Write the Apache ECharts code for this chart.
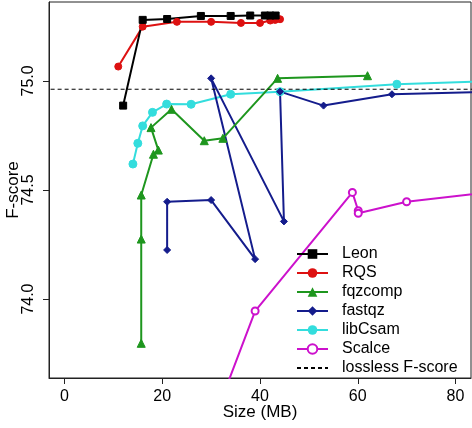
<!DOCTYPE html>
<html>
<head>
<meta charset="utf-8">
<script src="https://cdn.jsdelivr.net/npm/echarts@6/dist/echarts.min.js"></script>
<style>
html,body{margin:0;padding:0;background:#fff;}
#c{width:472px;height:428px;}
</style>
</head>
<body>
<div id="c"></div>
<script>
// ---- data ----
var seriesNames = ['Leon', 'RQS', 'fqzcomp', 'fastqz', 'libCsam', 'Scalce', 'lossless F-score'];

var leonX = [12.0, 16.0, 21.0, 27.9, 34.0, 38.0, 41.0, 42.1, 43.2];
var leonY = [74.887, 75.280, 75.284, 75.298, 75.298, 75.300, 75.300, 75.300, 75.300];

var rqsX = [11.0, 16.0, 23.0, 30.0, 36.1, 40.0, 42.1, 43.1, 44.1];
var rqsY = [75.066, 75.249, 75.271, 75.271, 75.266, 75.266, 75.277, 75.280, 75.283];

var fqzX = [15.7, 15.7, 15.7, 18.2, 19.2, 17.7, 21.9, 28.6, 32.4, 43.6, 62.0];
var fqzY = [73.797, 74.275, 74.477, 74.664, 74.683, 74.786, 74.870, 74.726, 74.737, 75.012, 75.024];

var fastqzX = [21.0, 21.0, 30.0, 39.0, 30.0, 44.9, 44.1, 53.0, 67.0, 95.0];
var fastqzY = [74.225, 74.446, 74.454, 74.183, 75.012, 74.356, 74.951, 74.887, 74.939, 74.955];

var libX = [14.0, 15.0, 16.0, 18.0, 20.9, 25.9, 34.0, 44.1, 68.0, 95.0];
var libY = [74.619, 74.714, 74.794, 74.856, 74.894, 74.893, 74.939, 74.951, 74.985, 75.005];

var scalceX = [30.0, 39.0, 58.9, 60.1, 60.1, 70.0, 95.0];
var scalceY = [73.413, 73.945, 74.489, 74.405, 74.393, 74.446, 74.511];

var losslessX = [-10, 100];
var losslessY = [74.962, 74.962];

var xTicks = [0, 20, 40, 60, 80];
var yTicks = [74.0, 74.5, 75.0];

function pairs(xs, ys) { return xs.map(function (x, i) { return [x, ys[i]]; }); }

var FONT = '"Liberation Sans", Arial, sans-serif';

function lineSeries(name, xs, ys, color, symbol, size, extra) {
  var s = {
    name: name, type: 'line', data: pairs(xs, ys),
    symbol: symbol, symbolSize: size, showSymbol: true,
    lineStyle: { color: color, width: 2 },
    itemStyle: { color: color, borderColor: color },
    clip: true, animation: false
  };
  if (extra) { for (var k in extra) s[k] = extra[k]; }
  return s;
}

var chart = echarts.init(document.getElementById('c'), null, { renderer: 'canvas' });
chart.setOption({
  backgroundColor: '#fff',
  animation: false,
  grid: { left: 49, right: 1, top: 2, bottom: 50, show: true, borderColor: '#222', borderWidth: 1,
    containLabel: false, outerBoundsMode: 'none' },
  xAxis: {
    type: 'value', min: -3.17, max: 83.17,
    name: 'Size (MB)', nameLocation: 'middle', nameGap: 26, nameMoveOverlap: false,
    nameTextStyle: { fontFamily: FONT, fontSize: 17, color: '#000' },
    axisLine: { show: true, onZero: false, lineStyle: { color: '#222', width: 1 } },
    axisTick: { show: true, inside: false, length: 6, customValues: xTicks, lineStyle: { color: '#222' } },
    axisLabel: { customValues: xTicks, fontFamily: FONT, fontSize: 16, color: '#000', margin: 11 },
    splitLine: { show: false }
  },
  yAxis: {
    type: 'value', min: 73.638, max: 75.362,
    name: 'F-score', nameLocation: 'middle', nameGap: 27, nameRotate: 90, nameMoveOverlap: false,
    nameTextStyle: { fontFamily: FONT, fontSize: 17, color: '#000' },
    axisLine: { show: true, onZero: false, lineStyle: { color: '#222', width: 1 } },
    axisTick: { show: true, inside: false, length: 6, customValues: yTicks, lineStyle: { color: '#222' } },
    axisLabel: { customValues: yTicks, rotate: 90, fontFamily: FONT, fontSize: 16, color: '#000', margin: 12,
      formatter: function (v) { return v.toFixed(1); } },
    splitLine: { show: false }
  },
  legend: {
    orient: 'vertical', left: 291, top: 241, height: 170,
    itemWidth: 31, itemHeight: 12, itemGap: 3,
    textStyle: { fontFamily: FONT, fontSize: 16, lineHeight: 16, color: '#000', padding: [0, 0, 0, 9] },
    data: seriesNames
  },
  series: [
    lineSeries(seriesNames[5], scalceX, scalceY, '#cc11cc', 'emptyCircle', 7, { itemStyle: { color: '#cc11cc', borderColor: '#cc11cc', borderWidth: 2 } }),
    lineSeries(seriesNames[4], libX, libY, '#33dddd', 'circle', 8),
    lineSeries(seriesNames[3], fastqzX, fastqzY, '#141c8c', 'diamond', 7),
    lineSeries(seriesNames[2], fqzX, fqzY, '#1e961e', 'triangle', 8),
    lineSeries(seriesNames[1], rqsX, rqsY, '#dd1111', 'circle', 7),
    lineSeries(seriesNames[0], leonX, leonY, '#000000', 'rect', 7),
    {
      name: seriesNames[6], type: 'line', data: pairs(losslessX, losslessY),
      symbol: 'circle', symbolSize: 0, showSymbol: false,
      lineStyle: { color: '#000', width: 1, type: [4, 3] },
      itemStyle: { color: '#000', opacity: 0 }, clip: true, animation: false
    }
  ]
});
</script>
</body>
</html>
